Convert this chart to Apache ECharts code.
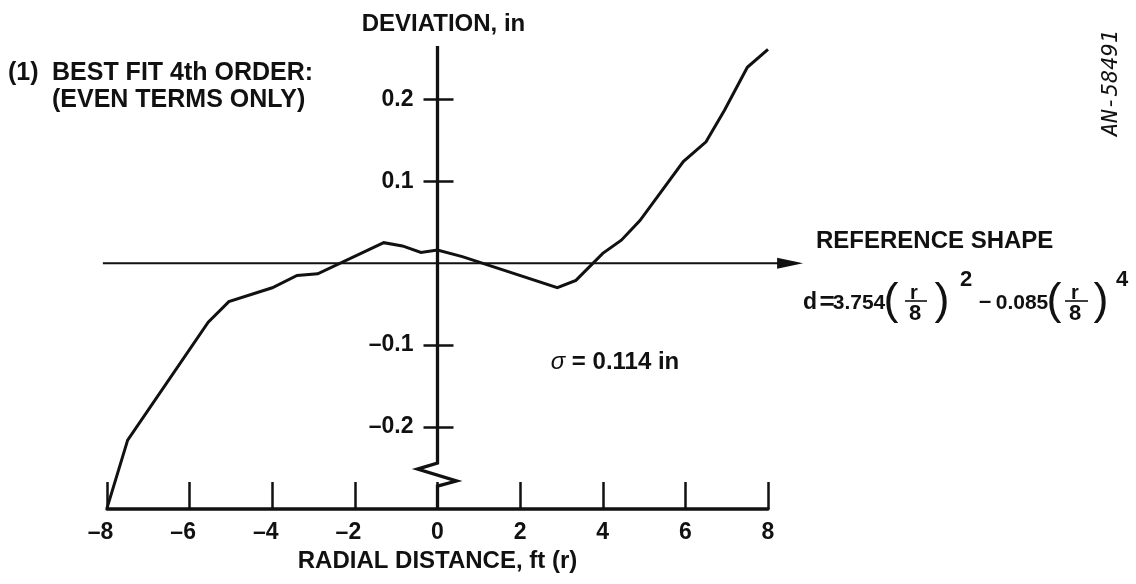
<!DOCTYPE html>
<html>
<head>
<meta charset="utf-8">
<script src="https://cdn.jsdelivr.net/npm/echarts@6/dist/echarts.min.js"></script>
<style>
  html, body { margin: 0; padding: 0; background: #fff; }
  #chart { width: 1136px; height: 584px; }
</style>
</head>
<body>
<div id="chart"></div>
<script>
// Measured deviation from the reference shape along the radius
const radialFt = [-8, -7.5, -5.55, -5.05, -4.0, -3.4, -2.9, -1.3, -0.85, -0.4, 0, 0.6, 2.9, 3.35, 4.0, 4.45, 4.9, 5.95, 6.5, 6.95, 7.5, 8.0];
const deviationIn = [-0.299, -0.216, -0.072, -0.047, -0.030, -0.015, -0.013, 0.025, 0.021, 0.013, 0.016, 0.008, -0.030, -0.021, 0.012, 0.028, 0.052, 0.124, 0.148, 0.187, 0.239, 0.261];

// Axis ranges and tick values
const X_MIN = -8, X_MAX = 8, X_STEP = 2;
const Y_MIN = -0.3, Y_MAX = 0.265;
const yTickValues = [-0.2, -0.1, 0.1, 0.2];

// Break drawn on the deviation axis, and extent of the reference-shape arrow
const BREAK_FROM = -0.244, BREAK_TO = -0.272;
const REF_FROM = -8.1, REF_TO = 8.85;

const INK = '#111';
const FONT = '"Liberation Sans", Arial, Helvetica, sans-serif';
const Y_LABEL_GAP = 24;   // px between the deviation axis and its labels

const minus = v => (v < 0 ? '\u2013' + Math.abs(v) : String(v));

function txt(text, x, y, o) {
  o = o || {};
  return {
    type: 'text', x: x, y: y, silent: true, rotation: o.rotation || 0,
    style: {
      text: text,
      fill: INK,
      font: (o.style || 'normal') + ' ' + (o.weight || 'bold') + ' ' + (o.size || 24) + 'px ' + (o.family || FONT),
      align: o.align || 'left',
      verticalAlign: 'middle'
    }
  };
}
function bar(x1, x2, y) {
  return { type: 'line', silent: true, shape: { x1: x1, y1: y, x2: x2, y2: y }, style: { stroke: INK, lineWidth: 1.6 } };
}

const chart = echarts.init(document.getElementById('chart'), null, { renderer: 'canvas' });

chart.setOption({
  animation: false,
  backgroundColor: '#fff',
  textStyle: { fontFamily: FONT, color: INK },
  grid: { left: 107, right: 368, top: 46, bottom: 75 },
  xAxis: {
    type: 'value', min: X_MIN, max: X_MAX, interval: X_STEP,
    axisLine: { onZero: false, lineStyle: { color: INK, width: 3.5 } },
    axisTick: { inside: true, length: 27, lineStyle: { color: INK, width: 2.5 } },
    axisLabel: {
      margin: 12, showMinLabel: true, showMaxLabel: true,
      formatter: v => (v < 0 ? '{n|' + minus(v) + '}' : '{p|' + v + '}'),
      rich: {
        n: { fontSize: 23, fontWeight: 'bold', fontFamily: FONT, color: INK, padding: [0, 13, 0, 0] },
        p: { fontSize: 23, fontWeight: 'bold', fontFamily: FONT, color: INK }
      }
    },
    splitLine: { show: false },
    name: 'RADIAL DISTANCE, ft (r)', nameLocation: 'middle', nameGap: 40,
    nameTextStyle: { fontSize: 24, fontWeight: 'bold', fontFamily: FONT, color: INK }
  },
  yAxis: [
    {
      type: 'value', min: Y_MIN, max: Y_MAX,
      axisLine: { show: true, onZero: true, onZeroAxisIndex: 0, lineStyle: { opacity: 0 } },
      axisTick: { show: true, length: 14, customValues: yTickValues, lineStyle: { color: INK, width: 2.5 } },
      axisLabel: {
        customValues: yTickValues, margin: Y_LABEL_GAP, formatter: minus,
        fontSize: 23, fontWeight: 'bold', fontFamily: FONT, color: INK
      },
      splitLine: { show: false },
      name: 'DEVIATION, in', nameLocation: 'end', nameGap: 10,
      nameTextStyle: { fontSize: 24, fontWeight: 'bold', fontFamily: FONT, color: INK, align: 'center', padding: [0, 0, 0, 12] }
    },
    {
      type: 'value', min: Y_MIN, max: Y_MAX, position: 'right',
      axisLine: { show: true, onZero: true, onZeroAxisIndex: 0, lineStyle: { opacity: 0 } },
      axisTick: { show: true, length: 16, customValues: yTickValues, lineStyle: { color: INK, width: 2.5 } },
      axisLabel: { show: false },
      splitLine: { show: false }
    }
  ],
  series: [
    {
      // deviation axis line with its break
      type: 'custom', silent: true, z: 3, data: [[0]],
      renderItem: function (params, api) {
        const top = api.coord([0, Y_MAX]);
        const a = api.coord([0, BREAK_FROM]);
        const b = api.coord([0, BREAK_TO]);
        const bottom = api.coord([0, Y_MIN]);
        const h = b[1] - a[1];
        const pts = [top, a, [a[0] - 20, a[1] + h * 0.26], [a[0] + 19, a[1] + h * 0.78], b, bottom];
        return { type: 'polyline', shape: { points: pts }, style: { stroke: INK, lineWidth: 3.3, fill: null, lineJoin: 'miter' } };
      }
    },
    {
      // reference shape (zero deviation) arrow
      type: 'custom', silent: true, z: 3, data: [[0]],
      renderItem: function (params, api) {
        const s = api.coord([REF_FROM, 0]);
        const e = api.coord([REF_TO, 0]);
        const headLen = 26, headHalf = 5.5;
        return {
          type: 'group',
          children: [
            { type: 'line', shape: { x1: s[0], y1: s[1], x2: e[0] - headLen + 2, y2: e[1] }, style: { stroke: INK, lineWidth: 2 } },
            { type: 'polygon', shape: { points: [[e[0], e[1]], [e[0] - headLen, e[1] - headHalf], [e[0] - headLen, e[1] + headHalf]] }, style: { fill: INK } }
          ]
        };
      }
    },
    {
      name: 'Deviation', type: 'line', z: 4,
      data: radialFt.map((r, i) => [r, deviationIn[i]]),
      showSymbol: false, symbol: 'none', clip: false,
      lineStyle: { color: INK, width: 3, join: 'miter' }
    }
  ],
  graphic: [
    txt('(1)', 8, 73, { size: 25 }),
    txt('BEST FIT 4th ORDER:', 52, 73, { size: 25 }),
    txt('(EVEN TERMS ONLY)', 52, 100, { size: 25 }),
    txt('REFERENCE SHAPE', 816, 241),
    {
      type: 'text', x: 615, y: 362, silent: true,
      style: {
        text: '{s|\u03c3} = 0.114 in', align: 'center', verticalAlign: 'middle', fill: INK,
        font: 'bold 24px ' + FONT,
        rich: { s: { fontStyle: 'italic', fontWeight: 'normal', fontSize: 24, fontFamily: FONT, fill: INK } }
      }
    },
    txt('AN-58491', 1111, 83, { rotation: Math.PI / 2, align: 'center', weight: 'normal', style: 'italic', size: 22, family: '"DejaVu Sans Mono", monospace' }),
    // d = 3.754 (r/8)^2 - 0.085 (r/8)^4
    txt('d', 810, 303, { align: 'center', size: 23 }),
    txt('=', 827, 303, { align: 'center', size: 26 }),
    txt('3.754', 859, 303, { align: 'center', size: 21 }),
    txt('(', 891, 302, { align: 'center', size: 45, weight: 'normal' }),
    txt('r', 914, 293, { align: 'center', size: 20 }),
    bar(905, 927, 301),
    txt('8', 915, 314, { align: 'center', size: 22 }),
    txt(')', 942, 302, { align: 'center', size: 45, weight: 'normal' }),
    txt('2', 966, 280, { align: 'center', size: 22 }),
    txt('\u2013', 985, 302, { align: 'center', size: 22 }),
    txt('0.085', 1022, 303, { align: 'center', size: 21 }),
    txt('(', 1054, 302, { align: 'center', size: 45, weight: 'normal' }),
    txt('r', 1075, 293, { align: 'center', size: 20 }),
    bar(1065, 1088, 301),
    txt('8', 1075, 314, { align: 'center', size: 22 }),
    txt(')', 1101, 302, { align: 'center', size: 45, weight: 'normal' }),
    txt('4', 1122, 280, { align: 'center', size: 22 })
  ]
});

// The deviation axis sits on r = 0, but its labels are laid out from the grid's
// left edge; shift them back next to the axis line.
const xZero = chart.convertToPixel({ xAxisIndex: 0 }, 0);
const xLeft = chart.convertToPixel({ xAxisIndex: 0 }, X_MIN);
chart.setOption({ yAxis: [{ axisLabel: { margin: Y_LABEL_GAP - (xZero - xLeft) } }, {}] });
</script>
</body>
</html>
